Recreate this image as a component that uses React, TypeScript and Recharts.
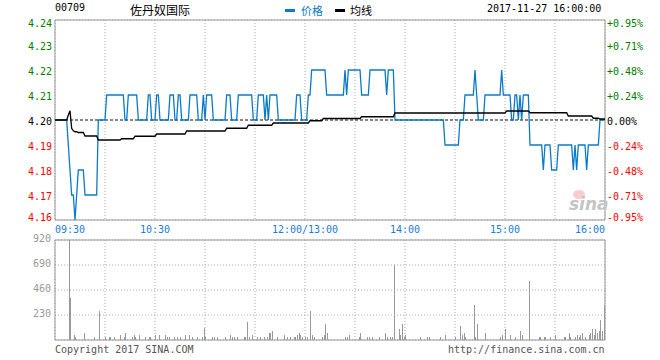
import React from "react";
import {
  ComposedChart,
  Line,
  Bar,
  XAxis,
  YAxis,
  CartesianGrid,
  ReferenceArea,
} from "recharts";

// minutes since 09:30, lunch break folded at 150 (12:00/13:00)
const gridMinutes = [0, 30, 60, 90, 120, 150, 180, 210, 240, 270, 300, 330];
const timeLabelMinutes = [0, 60, 150, 210, 270, 330];
const timeLabelTexts = ["09:30", "10:30", "12:00/13:00", "14:00", "15:00", "16:00"];

const prevClose = 4.2;
const priceTicks = [4.16, 4.17, 4.18, 4.19, 4.2, 4.21, 4.22, 4.23, 4.24];
const pctLabels = ["-0.95%", "-0.71%", "-0.48%", "-0.24%", "0.00%", "+0.24%", "+0.48%", "+0.71%", "+0.95%"];
const volTicks = [0, 230, 460, 690, 920];

// [minute, price] - price holds until the next entry
const priceChanges: [number, number][] = [
  [0, 4.2], [8, 4.19], [9, 4.18], [10, 4.17], [12, 4.16], [13, 4.17], [14, 4.18],
  [18, 4.17], [26, 4.2], [31, 4.21], [42, 4.2], [44, 4.21], [50, 4.2], [56, 4.21],
  [58, 4.2], [61, 4.21], [63, 4.2], [69, 4.21], [72, 4.2], [74, 4.21], [76, 4.2],
  [81, 4.21], [86, 4.2], [89, 4.21], [90, 4.2], [91, 4.21], [95, 4.2], [103, 4.21],
  [106, 4.2], [110, 4.21], [119, 4.2], [122, 4.21], [126, 4.2], [127, 4.21], [128, 4.2],
  [129, 4.21], [134, 4.2], [145, 4.21], [148, 4.2], [152, 4.21], [154, 4.22], [163, 4.21],
  [174, 4.22], [175, 4.21], [176, 4.22], [184, 4.21], [189, 4.22], [199, 4.21], [200, 4.22],
  [204, 4.2], [234, 4.19], [243, 4.2], [246, 4.21], [252, 4.22], [253, 4.21], [254, 4.2],
  [258, 4.21], [268, 4.22], [269, 4.21], [274, 4.2], [276, 4.21], [278, 4.2], [279, 4.21],
  [280, 4.2], [281, 4.21], [285, 4.19], [293, 4.18], [294, 4.19], [298, 4.18], [302, 4.19],
  [311, 4.18], [312, 4.19], [313, 4.18], [314, 4.19], [319, 4.18], [320, 4.19], [327, 4.2],
];

// [minute, average price]
const avgChanges: [number, number][] = [
  [0, 4.2], [8, 4.202], [9, 4.2037], [10, 4.1967], [11, 4.1957], [12, 4.1953], [14, 4.195],
  [18, 4.1936], [26, 4.192], [40, 4.1925], [48, 4.1935], [61, 4.1944], [79, 4.1956],
  [103, 4.1967], [116, 4.1979], [131, 4.1988], [153, 4.1997], [161, 4.2006], [184, 4.2013],
  [204, 4.2028], [271, 4.2036], [285, 4.2029], [308, 4.2016], [323, 4.2007], [327, 4.2004],
];

// [minute, volume] - minutes not listed had no trades
const volBars: [number, number][] = [
  [9, 920], [10, 390], [12, 43], [13, 28], [18, 61], [24, 28], [27, 267], [31, 28], [33, 28],
  [34, 28], [36, 28], [40, 46], [42, 28], [43, 61], [47, 28], [48, 46], [49, 28], [51, 46],
  [55, 28], [57, 28], [58, 28], [61, 46], [63, 46], [67, 46], [68, 28], [69, 28], [72, 28],
  [74, 28], [76, 28], [79, 46], [81, 46], [83, 28], [86, 28], [89, 28], [90, 107], [91, 28],
  [95, 28], [96, 28], [98, 28], [103, 28], [106, 46], [107, 28], [108, 28], [110, 28],
  [114, 28], [115, 28], [116, 166], [117, 28], [119, 46], [122, 28], [124, 28], [126, 28],
  [128, 28], [129, 61], [130, 61], [131, 83], [134, 28], [138, 46], [140, 28], [142, 28],
  [144, 28], [145, 28], [146, 46], [147, 61], [148, 46], [149, 28], [151, 28], [152, 28],
  [154, 267], [155, 46], [156, 28], [161, 28], [162, 46], [163, 147], [164, 61],
  [175, 28], [176, 28], [177, 46], [183, 28], [184, 61], [188, 28], [189, 28], [191, 28],
  [195, 28], [199, 61], [200, 28], [202, 28], [203, 28], [204, 690], [207, 98], [208, 46],
  [209, 147], [210, 28], [211, 46], [220, 28], [224, 28], [225, 28], [232, 28], [235, 46],
  [241, 28], [244, 129], [245, 46], [246, 61], [247, 28], [252, 322], [253, 28], [254, 147],
  [259, 61], [268, 28], [269, 46], [271, 98], [274, 46], [277, 28], [280, 83], [281, 46],
  [285, 543], [291, 28], [292, 28], [294, 28], [295, 28], [298, 28], [301, 46], [306, 28],
  [307, 28], [309, 61], [310, 28], [313, 28], [314, 46], [315, 28], [316, 46], [317, 61],
  [319, 28], [321, 46], [322, 61], [323, 98], [324, 46], [325, 98], [326, 61], [327, 83],
  [328, 184], [329, 83], [330, 322],
];

const stepAt = (steps: [number, number][], m: number) => {
  let v = steps[0][1];
  for (const [t, val] of steps) if (t <= m) v = val;
  return v;
};

const volMap = new Map(volBars);
const rows = Array.from({ length: 331 }, (_, m) => ({
  m,
  price: stepAt(priceChanges, m),
  avg: stepAt(avgChanges, m),
  pc: prevClose,
  vol: volMap.get(m) ?? 0,
}));

const MONO = "'DejaVu Sans Mono', monospace";
const CJK = "'Noto Sans CJK SC', sans-serif";
const BLUE = "#0b7bc9";

const edgeShift = (v: number) =>
  v >= priceTicks[priceTicks.length - 1] - 1e-6 ? 3 : v <= priceTicks[0] + 1e-6 ? -3 : 1;

const priceColor = (v: number) =>
  Math.abs(v - prevClose) < 1e-6 ? "#000" : v > prevClose ? "#008000" : "#f00";

const PriceTick = ({ x, y, payload }: any) => (
  <text x={x} y={y + edgeShift(payload.value)} dy="0.35em" textAnchor="end"
    fontFamily={MONO} fontSize={10} fill={priceColor(payload.value)}>
    {payload.value.toFixed(2)}
  </text>
);

const PctTick = ({ x, y, payload }: any) => {
  const idx = priceTicks.findIndex((t) => Math.abs(t - payload.value) < 1e-6);
  return (
    <text x={x} y={y + edgeShift(payload.value)} dy="0.35em" textAnchor="start"
      fontFamily={MONO} fontSize={10} fill={priceColor(payload.value)}>
      {pctLabels[idx]}
    </text>
  );
};

const TimeTick = ({ x, y, payload }: any) => {
  const idx = timeLabelMinutes.indexOf(payload.value);
  if (idx < 0) return null;
  const anchor = idx === 0 ? "start" : idx === timeLabelMinutes.length - 1 ? "end" : "middle";
  return (
    <text x={x} y={y + 11} textAnchor={anchor} fontFamily={MONO} fontSize={10} fill="#1c7cd5">
      {timeLabelTexts[idx]}
    </text>
  );
};

const VolTick = ({ x, y, payload }: any) =>
  payload.value === 0 ? null : (
    <text x={x} y={y - 2} dy="0.35em" textAnchor="end" fontFamily={MONO} fontSize={10} fill="#999">
      {payload.value}
    </text>
  );

// snap the 1px volume bars to whole pixels so they stay crisp
const CrispBar = ({ x, y, width, height, fill }: any) => {
  if (!height || height <= 0) return null;
  const cx = Math.round(x + width / 2);
  return <rect x={cx - 1} y={Math.round(y)} width={1} height={Math.round(y + height) - Math.round(y)} fill={fill} />;
};

const txt = (left: number, top: number, extra: React.CSSProperties = {}): React.CSSProperties => ({
  position: "absolute",
  left,
  top,
  whiteSpace: "nowrap",
  fontFamily: MONO,
  fontSize: 10,
  lineHeight: "12px",
  ...extra,
});

export default function App() {
  return (
    <div style={{ position: "absolute", left: 0, top: 0, width: 660, height: 360, background: "#fff", overflow: "hidden" }}>
      <div style={txt(55, 2)}>00709</div>
      <div style={txt(130, 3, { fontFamily: CJK, fontSize: 12, lineHeight: "14px" })}>佐丹奴国际</div>
      <div style={{ position: "absolute", left: 285, top: 9, width: 10, height: 3, background: BLUE }} />
      <div style={txt(301, 3, { fontFamily: CJK, fontSize: 11, lineHeight: "14px", color: BLUE })}>价格</div>
      <div style={{ position: "absolute", left: 335, top: 9, width: 10, height: 3, background: "#000" }} />
      <div style={txt(350, 3, { fontFamily: CJK, fontSize: 11, lineHeight: "14px" })}>均线</div>
      <div style={txt(487, 3)}>2017-11-27 16:00:00</div>

      <div style={{ position: "absolute", left: 0, top: 0 }}>
        <ComposedChart width={660} height={240} data={rows} margin={{ top: 20, right: 0, bottom: 0, left: 0 }}>
          <CartesianGrid stroke="#aaa" strokeDasharray="1 2" />
          <XAxis dataKey="m" type="number" domain={[0, 330]} ticks={gridMinutes} height={20}
            axisLine={false} tickLine={false} tickSize={0} tick={<TimeTick />} interval={0} />
          <YAxis yAxisId="left" domain={[4.16, 4.24]} ticks={priceTicks} width={55} interval={0}
            axisLine={false} tickLine={false} tickSize={0} tickMargin={3} tick={<PriceTick />} />
          <YAxis yAxisId="right" orientation="right" domain={[4.16, 4.24]} ticks={priceTicks} width={55}
            interval={0} axisLine={false} tickLine={false} tickSize={0} tickMargin={2} tick={<PctTick />} />
          <Line yAxisId="left" dataKey="pc" stroke="#000" strokeWidth={1} strokeDasharray="3 2"
            dot={false} isAnimationActive={false} />
          <Line yAxisId="left" dataKey="price" type="linear" stroke={BLUE} strokeWidth={1.3}
            dot={false} isAnimationActive={false} />
          <Line yAxisId="right" dataKey="avg" type="linear" stroke="#000" strokeWidth={1.3}
            dot={false} isAnimationActive={false} />
          <ReferenceArea yAxisId="left" x1={0} x2={330} y1={4.16} y2={4.24} fill="none" stroke="#999" />
        </ComposedChart>
      </div>

      <div style={{ position: "absolute", left: 0, top: 230 }}>
        <ComposedChart width={660} height={120} data={rows} margin={{ top: 10, right: 55, bottom: 10, left: 0 }}>
          <CartesianGrid stroke="#aaa" strokeDasharray="1 2" />
          <XAxis dataKey="m" type="number" domain={[0, 330]} ticks={gridMinutes} hide />
          <YAxis domain={[0, 920]} ticks={volTicks} width={55} interval={0} axisLine={false}
            tickLine={false} tickSize={0} tickMargin={4} tick={<VolTick />} />
          <Bar dataKey="vol" fill="#999" barSize={1} shape={<CrispBar />} isAnimationActive={false} />
          <ReferenceArea x1={0} x2={330} y1={0} y2={920} fill="none" stroke="#999" />
        </ComposedChart>
      </div>

      <div style={{ position: "absolute", left: 573, top: 190, width: 12, height: 9, borderRadius: "50%", background: "#f6c0c0", opacity: 0.8 }} />
      <div style={txt(569, 195, { fontFamily: "'DejaVu Sans', sans-serif", fontSize: 17, lineHeight: "18px", fontWeight: "bold", fontStyle: "italic", color: "#c4c4c4" })}>sina</div>

      <div style={txt(55, 344, { color: "#555" })}>Copyright 2017 SINA.COM</div>
      <div style={txt(448, 344, { color: "#555" })}>http://finance.sina.com.cn</div>
    </div>
  );
}
